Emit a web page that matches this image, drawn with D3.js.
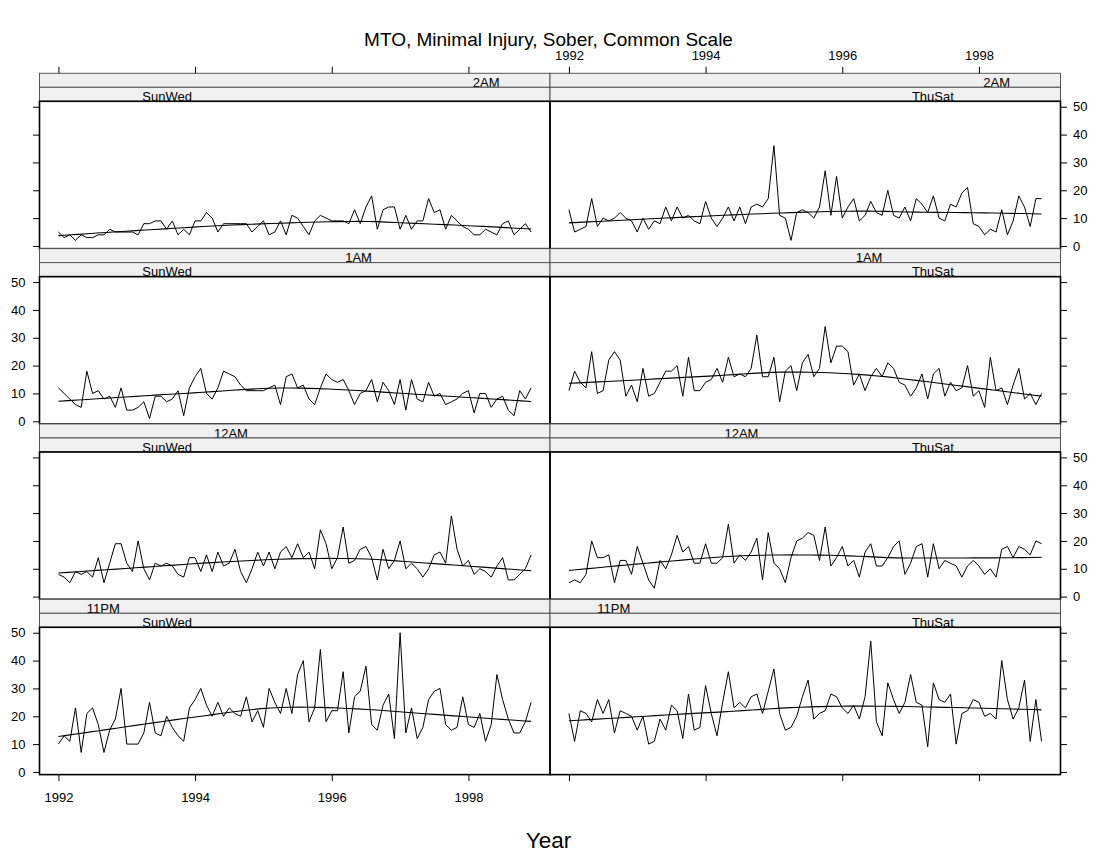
<!DOCTYPE html>
<html><head><meta charset="utf-8">
<script src="https://cdn.jsdelivr.net/npm/d3@7"></script>
<style>
body{margin:0;background:#fff}
svg{display:block}
text{font-family:"Liberation Sans",Arial,Helvetica,sans-serif;fill:#000}
</style>
</head><body><svg id="chart" width="1097" height="857"></svg>
<script>
// ---------------- data ----------------
const chartTitle = "MTO, Minimal Injury, Sober, Common Scale";
const xLabel = "Year";
const hourLevels = ["11PM", "12AM", "1AM", "2AM"];
const dayLevels = ["SunWed", "ThuSat"];
const rowOrder = ["2AM", "1AM", "12AM", "11PM"];
const startYear = 1992;            // monthly series starting Jan 1992
const xTicks = [1992, 1994, 1996, 1998];
const yTicks = [0, 10, 20, 30, 40, 50];

const am2SunWed = [5,3,4,2,4,3,3,4,4,6, 5,5,5,5,4,8,8,9,9,6, 9,4,6,4,9,9,12,10,5,8, 8,8,8,8,5,7,9,4,5,9, 4,11,10,7,4,9,11,10,9,9, 9,8,13,8,14,18,6,13,14,14, 6,11,6,9,9,17,12,13,6,11, 9,7,6,4,4,6,5,4,8,9, 4,6,8,5];
const am2ThuSat = [13,5,6,7,17,7,10,9,10,12, 10,9,5,10,6,9,8,14,9,14, 10,11,9,8,16,10,7,10,14,9, 14,8,14,15,14,17,36,11,10,2, 12,13,12,10,14,27,11,25,10,14, 17,9,11,16,12,11,20,11,10,14, 9,17,15,12,18,10,9,15,14,19, 21,8,7,4,6,5,13,4,9,18, 14,7,17,17];
const am1SunWed = [12,10,8,6,5,18,10,11,8,9, 5,12,4,4,5,7,1,9,9,7, 8,11,2,12,16,19,10,8,12,18, 17,16,13,11,11,11,11,12,13,6, 16,17,12,13,8,6,12,17,15,14, 15,11,6,10,11,15,7,14,11,6, 15,4,15,8,7,14,9,10,6,7, 8,10,11,3,10,10,5,8,9,4, 2,11,8,12];
const am1ThuSat = [11,18,14,12,25,10,11,22,25,22, 9,13,7,19,9,10,14,18,18,20, 9,23,11,11,14,15,19,14,23,16, 17,16,19,31,16,16,23,7,18,20, 11,21,24,16,19,34,21,27,27,25, 13,17,11,16,19,16,21,19,14,13, 9,12,17,8,17,19,9,14,11,12, 20,9,11,5,23,11,12,6,13,19, 8,10,6,10];
const am12SunWed = [8,7,5,9,8,9,7,14,5,12, 19,19,12,9,20,10,6,12,11,12, 11,8,7,14,14,9,15,9,16,11, 12,17,9,5,10,16,11,16,10,16, 18,14,19,14,16,10,24,19,10,14, 25,12,13,17,18,14,6,17,10,13, 20,10,12,10,7,10,15,16,12,29, 17,11,13,8,10,9,7,11,14,6, 6,8,10,15];
const am12ThuSat = [5,6,5,8,20,14,14,15,5,13, 13,8,18,12,6,3,13,10,15,22, 16,18,12,12,19,12,12,14,26,12, 15,13,16,21,6,23,12,10,5,14, 20,21,23,22,13,25,11,14,18,11, 13,7,16,19,11,11,14,18,20,8, 12,18,19,7,19,10,13,12,11,7, 11,13,11,8,10,7,17,18,14,18, 17,15,20,19];
const pm11SunWed = [10,13,11,23,7,21,23,17,7,15, 19,30,10,10,10,14,25,14,13,20, 16,13,11,23,26,30,24,20,25,20, 23,21,20,27,18,22,16,30,25,21, 30,21,35,40,18,23,44,18,22,22, 36,14,27,29,38,17,15,24,28,12, 50,14,23,12,16,26,29,30,17,15, 16,27,17,16,21,11,17,35,26,19, 14,14,18,25];
const pm11ThuSat = [21,11,22,21,18,26,21,26,14,22, 21,20,15,20,10,11,19,15,24,22, 12,28,15,16,31,21,13,25,36,23, 25,23,27,28,21,29,37,21,15,16, 20,27,33,19,21,22,28,27,23,21, 24,19,27,47,18,13,32,26,21,25, 35,25,24,9,32,26,25,28,10,21, 22,26,25,20,21,19,40,26,19,23, 33,11,26,11];

const panels = [
  {hour: "2AM",  day: "SunWed", values: am2SunWed},
  {hour: "2AM",  day: "ThuSat", values: am2ThuSat},
  {hour: "1AM",  day: "SunWed", values: am1SunWed},
  {hour: "1AM",  day: "ThuSat", values: am1ThuSat},
  {hour: "12AM", day: "SunWed", values: am12SunWed},
  {hour: "12AM", day: "ThuSat", values: am12ThuSat},
  {hour: "11PM", day: "SunWed", values: pm11SunWed},
  {hour: "11PM", day: "ThuSat", values: pm11ThuSat}
];

// ---------------- loess (lattice panel.loess: span 2/3, degree 1, symmetric) ----------------
function loessFit(xv, yv, span, evalX, iterations) {
  const n = xv.length, q = Math.floor(n * span);
  let rob = new Array(n).fill(1);
  function fitAt(x0) {
    const d = xv.map(x => Math.abs(x - x0));
    const h = d.slice().sort((a, b) => a - b)[q - 1] * 1.0000001;
    let sw = 0, swx = 0, swy = 0, swxx = 0, swxy = 0;
    for (let i = 0; i < n; i++) {
      const u = d[i] / h;
      let w = u < 1 ? Math.pow(1 - u * u * u, 3) : 0;
      w *= rob[i];
      sw += w; swx += w * xv[i]; swy += w * yv[i];
      swxx += w * xv[i] * xv[i]; swxy += w * xv[i] * yv[i];
    }
    const mx = swx / sw, my = swy / sw;
    const vx = swxx / sw - mx * mx;
    const b = vx > 1e-12 ? (swxy / sw - mx * my) / vx : 0;
    return my + b * (x0 - mx);
  }
  for (let it = 0; it < iterations - 1; it++) {
    const res = yv.map((y, i) => y - fitAt(xv[i]));
    const s = d3.median(res.map(Math.abs));
    rob = res.map(r => { const u = r / (6 * s); return Math.abs(u) < 1 ? Math.pow(1 - u * u, 2) : 0; });
  }
  return evalX.map(x => [x, fitAt(x)]);
}

// ---------------- layout ----------------
const svg = d3.select("#chart");
const L = 39.5, W = 510.5, T = 73.3, RH = 175.33, SH = 14;
const FS = 13;

const nPts = am2SunWed.length;
const xVals = d3.range(nPts).map(i => startYear + i / 12);
const xExt = d3.extent(xVals), xPad = (xExt[1] - xExt[0]) * 0.04;
const allVals = panels.flatMap(p => p.values);
const yExt = d3.extent(allVals), yPad = (yExt[1] - yExt[0]) * 0.04;

const xs = d3.scaleLinear().domain([xExt[0] - xPad, xExt[1] + xPad]).range([0, W]);
const ys = d3.scaleLinear().domain([yExt[0] - yPad, yExt[1] + yPad]).range([RH, 2 * SH]);

const evalX = d3.range(50).map(i => xExt[0] + (xExt[1] - xExt[0]) * i / 49);

svg.append("text").attr("x", 548.5).attr("y", 45.5).attr("text-anchor", "middle")
  .style("font-size", "19px").text(chartTitle);
svg.append("text").attr("x", 548.5).attr("y", 848).attr("text-anchor", "middle")
  .style("font-size", "22.5px").text(xLabel);

const defs = svg.append("defs");
const line = d3.line().x(d => xs(d[0])).y(d => ys(d[1]));

panels.forEach((p, k) => {
  const r = rowOrder.indexOf(p.hour), c = dayLevels.indexOf(p.day);
  const g = svg.append("g").attr("transform", `translate(${L + c * W},${T + r * RH})`);

  const cid = "clip" + k;
  defs.append("clipPath").attr("id", cid).append("rect")
    .attr("x", 0).attr("y", 2 * SH).attr("width", W).attr("height", RH - 2 * SH);

  // strips
  const strips = [
    {lab: p.hour, pos: (hourLevels.indexOf(p.hour) + 0.5) / hourLevels.length, y0: 0},
    {lab: p.day, pos: (dayLevels.indexOf(p.day) + 0.5) / dayLevels.length, y0: SH}
  ];
  strips.forEach((s, j) => {
    const sid = `sclip${k}_${j}`;
    defs.append("clipPath").attr("id", sid).append("rect")
      .attr("x", 0).attr("y", s.y0).attr("width", W).attr("height", SH);
    g.append("rect").attr("x", 0).attr("y", s.y0).attr("width", W).attr("height", SH)
      .attr("fill", "#f0f0f0");
    g.append("text").attr("clip-path", `url(#${sid})`)
      .attr("x", W * s.pos).attr("y", s.y0 + SH - 0.2).attr("text-anchor", "middle")
      .style("font-size", FS + "px").text(s.lab);
    g.append("rect").attr("x", 0).attr("y", s.y0).attr("width", W).attr("height", SH)
      .attr("fill", "none").attr("stroke", "#555").attr("stroke-width", 1);
  });

  // data
  const pts = p.values.map((v, i) => [xVals[i], v]);
  const gp = g.append("g").attr("clip-path", `url(#${cid})`);
  gp.append("path").datum(pts).attr("d", line)
    .attr("fill", "none").attr("stroke", "#000").attr("stroke-width", 1);
  gp.append("path").datum(loessFit(xVals, p.values, 2 / 3, evalX, 4)).attr("d", line)
    .attr("fill", "none").attr("stroke", "#000").attr("stroke-width", 1.1);

  // panel border
  g.append("rect").attr("x", 0).attr("y", 2 * SH).attr("width", W).attr("height", RH - 2 * SH)
    .attr("fill", "none").attr("stroke", "#000").attr("stroke-width", 1.6);

  // axes (lattice alternating)
  const styleAxis = sel => {
    sel.select(".domain").remove();
    sel.selectAll(".tick line").attr("stroke", "#000");
    sel.selectAll(".tick text").style("font-size", FS + "px")
      .style("font-family", '"Liberation Sans",Arial,sans-serif').attr("fill", "#000");
  };
  const labelY = (r % 2 === 1);
  if (c === 0) {
    const ax = d3.axisLeft(ys).tickValues(yTicks).tickSize(6.5).tickPadding(7.5)
      .tickFormat(labelY ? d3.format("d") : () => "");
    g.append("g").call(ax).call(styleAxis);
  } else {
    const ax = d3.axisRight(ys).tickValues(yTicks).tickSize(6.5).tickPadding(6)
      .tickFormat(!labelY ? d3.format("d") : () => "");
    g.append("g").attr("transform", `translate(${W},0)`).call(ax).call(styleAxis);
  }
  if (r === 0) {
    const ax = d3.axisTop(xs).tickValues(xTicks).tickSize(6.5).tickPadding(7)
      .tickFormat(c === 1 ? d3.format("d") : () => "");
    g.append("g").call(ax).call(styleAxis);
  }
  if (r === rowOrder.length - 1) {
    const ax = d3.axisBottom(xs).tickValues(xTicks).tickSize(6.5).tickPadding(12)
      .tickFormat(c === 0 ? d3.format("d") : () => "");
    g.append("g").attr("transform", `translate(0,${RH})`).call(ax).call(styleAxis);
  }
});
</script></body></html>
